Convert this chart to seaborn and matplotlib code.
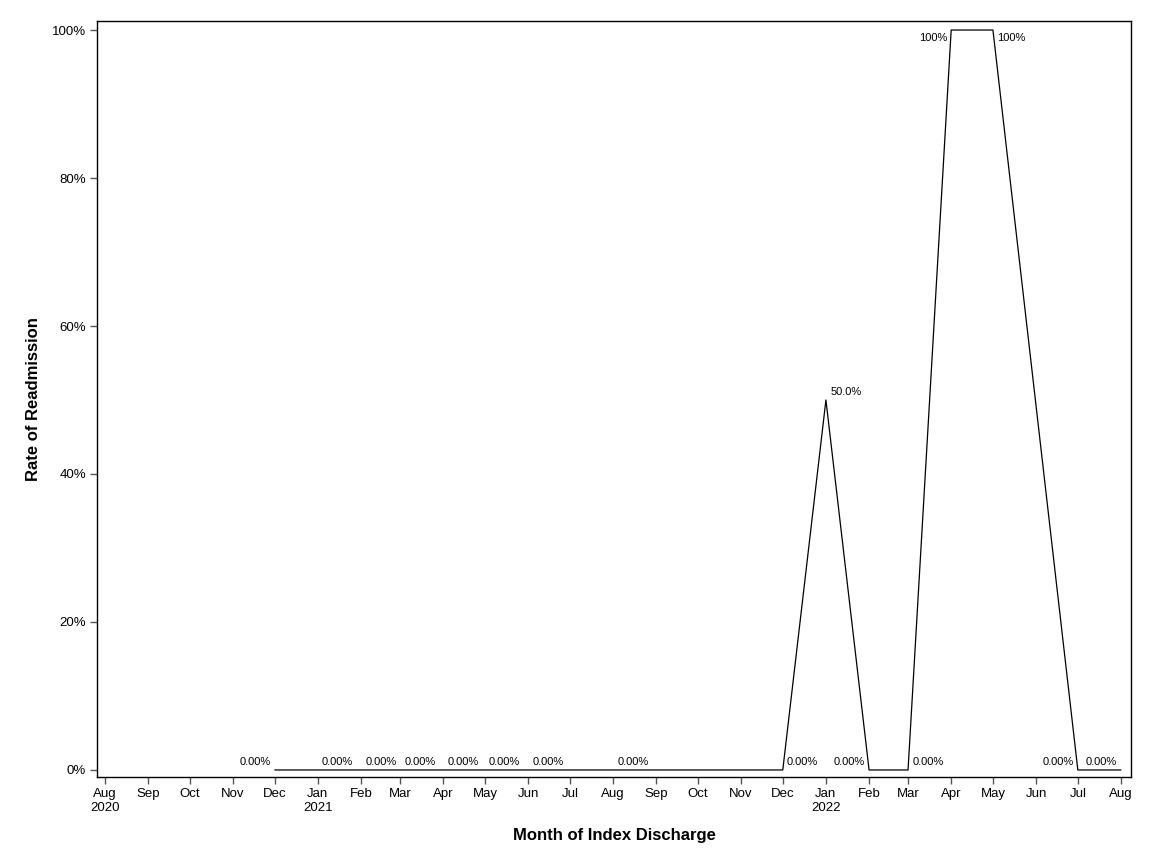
import numpy as np
import pandas as pd
import matplotlib
matplotlib.use("Agg")
import matplotlib.pyplot as plt
import matplotlib.dates as mdates
import seaborn as sns

sns.set_style("white")
plt.rcParams['font.family'] = ['Liberation Sans', 'DejaVu Sans']
plt.rcParams['text.color'] = 'black'
plt.rcParams['axes.labelcolor'] = 'black'
plt.rcParams['xtick.color'] = 'black'
plt.rcParams['ytick.color'] = 'black'

# months of index discharge that have data
months = ["2020-12", "2021-01", "2021-02", "2021-03", "2021-04", "2021-05",
          "2021-06", "2021-08", "2021-12", "2022-01", "2022-02", "2022-03",
          "2022-04", "2022-05", "2022-07", "2022-08"]
rates = [0.0, 0.0, 0.0, 0.0, 0.0, 0.0,
         0.0, 0.0, 0.0, 0.5, 0.0, 0.0,
         1.0, 1.0, 0.0, 0.0]
point_labels = ["0.00%", "0.00%", "0.00%", "0.00%", "0.00%", "0.00%",
                "0.00%", "0.00%", "0.00%", "50.0%", "0.00%", "0.00%",
                "100%", "100%", "0.00%", "0.00%"]
label_side = ["left", "right", "right", "right", "right", "right",
              "right", "right", "right", "right", "left", "right",
              "left", "right", "left", "left"]

df = pd.DataFrame({"month": pd.to_datetime(months), "rate": rates})

fig, ax = plt.subplots(figsize=(11.52, 8.64), dpi=100)
fig.subplots_adjust(left=97/1152, right=1131/1152, top=1-21/864, bottom=1-777/864)

sns.lineplot(data=df, x="month", y="rate", color="black", linewidth=0.9, ax=ax)

for d, r, t, s in zip(df["month"], rates, point_labels, label_side):
    dx = -3 if s == "left" else 3
    dy = -5.5 if r >= 1.0 else 6
    ax.annotate(t, (mdates.date2num(d), r), xytext=(dx, dy), textcoords="offset points",
                ha="right" if s == "left" else "left", va="center", fontsize=8)

ax.set_xlim(mdates.date2num(pd.Timestamp("2020-08-01")) - 5.75,
            mdates.date2num(pd.Timestamp("2022-08-01")) + 7.2)
ax.set_ylim(-0.0095, 1.0122)

ticks = pd.date_range("2020-08-01", "2022-08-01", freq="MS")
tick_labels = []
for t in ticks:
    lab = t.strftime("%b")
    if t == ticks[0] or t.month == 1:
        lab += "\n" + str(t.year)
    tick_labels.append(lab)
ax.set_xticks(mdates.date2num(ticks))
ax.set_xticklabels(tick_labels, fontsize=9.5)

yt = [0, 0.2, 0.4, 0.6, 0.8, 1.0]
ax.set_yticks(yt)
ax.set_yticklabels([f"{int(v*100)}%" for v in yt], fontsize=9.5)

ax.tick_params(axis="both", direction="out", length=5, width=1, color="#555555",
               bottom=True, left=True, pad=3)
for sp in ax.spines.values():
    sp.set_color("black")
    sp.set_linewidth(1)

ax.set_xlabel("Month of Index Discharge", fontsize=12, fontweight="bold", labelpad=10)
ax.set_ylabel("Rate of Readmission", fontsize=12, fontweight="bold", labelpad=8)

fig.savefig("out.png", dpi=100)
